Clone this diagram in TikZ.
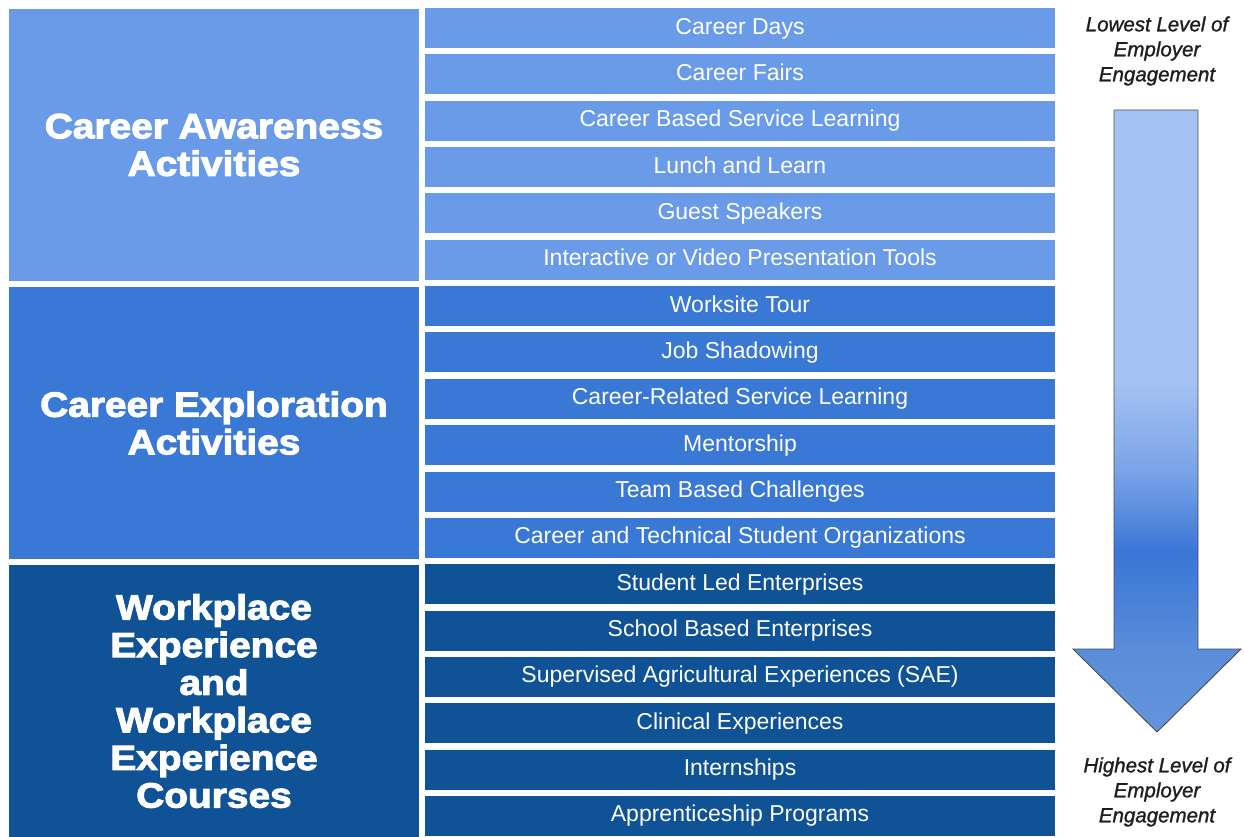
\documentclass[tikz,border=0pt]{standalone}
\usepackage{fontspec}
\setmainfont{Liberation Sans}
\newfontfamily\headfont[FakeBold=3,FakeStretch=1.11]{Liberation Sans Bold}
\newfontfamily\sidefont[FakeBold=1.2]{Liberation Sans Italic}
\definecolor{lightblue}{HTML}{6A9BE8}
\definecolor{midblue}{HTML}{3A78D6}
\definecolor{darkblue}{HTML}{0F5296}
\definecolor{ctext}{HTML}{1E1E1E}
\definecolor{arA}{HTML}{A4C2F2}
\definecolor{arB}{HTML}{7AA3E8}
\definecolor{arC}{HTML}{3A76D6}
\definecolor{arD}{HTML}{5A8DD9}
\definecolor{arE}{HTML}{6594DC}
\pgfdeclareverticalshading{arrowshade}{100bp}{color(0bp)=(arE);color(25bp)=(arE);color(31.6bp)=(arD);color(39.4bp)=(arC);color(46bp)=(arB);color(53.1bp)=(arA);color(75bp)=(arA);color(100bp)=(arA)}
\begin{document}
\begin{tikzpicture}[x=1pt,y=-1pt,
  item/.style={minimum width=630pt, minimum height=40pt, inner sep=0pt, text=white,
    text height=17pt, text depth=5pt,
    font=\fontsize{23}{24}\selectfont},
  group/.style={minimum width=410pt, inner sep=0pt, text=white, align=center,
    font=\headfont\fontsize{35}{37.6}\selectfont},
  side/.style={text=ctext, align=center, inner sep=0pt,
    font=\sidefont\fontsize{20.5}{25}\selectfont}]
\useasboundingbox (0,0) rectangle (1244,836);
\fill[white] (0,0) rectangle (1244,836);
% left group boxes
\node[group, fill=lightblue, minimum height=272pt] (g1) at (214,145) {Career Awareness\\Activities};
\node[group, fill=midblue, minimum height=272pt] (g2) at (214,423) {Career Exploration\\Activities};
\node[group, fill=darkblue, minimum height=272pt] (g3) at (214,701) {Workplace\\Experience\\and\\Workplace\\Experience\\Courses};
% items
\foreach \i/\t in {0/Career Days,1/Career Fairs,2/Career Based Service Learning,3/Lunch and Learn,4/Guest Speakers,5/Interactive or Video Presentation Tools}
  \node[item, fill=lightblue] (a\i) at (740,{28+46.35*\i}) {\t};
\foreach \i/\t in {6/Worksite Tour,7/Job Shadowing,8/Career-Related Service Learning,9/Mentorship,10/Team Based Challenges,11/Career and Technical Student Organizations}
  \node[item, fill=midblue] (a\i) at (740,{28+46.35*\i}) {\t};
\foreach \i/\t in {12/Student Led Enterprises,13/School Based Enterprises,14/Supervised Agricultural Experiences (SAE),15/Clinical Experiences,16/Internships,17/Apprenticeship Programs}
  \node[item, fill=darkblue] (a\i) at (740,{28+46.35*\i}) {\t};
% arrow
\shade[shading=arrowshade, draw=black!70, line width=0.9pt, line join=miter]
  (1114,110) -- (1198,110) -- (1198,649) -- (1241,649) -- (1157,732) -- (1073,649) -- (1114,649) -- cycle;
% side labels
\node[side] (low) at (1157,51) {Lowest Level of\\Employer\\Engagement};
\node[side] (high) at (1157,792) {Highest Level of\\Employer\\Engagement};
\end{tikzpicture}
\end{document}
